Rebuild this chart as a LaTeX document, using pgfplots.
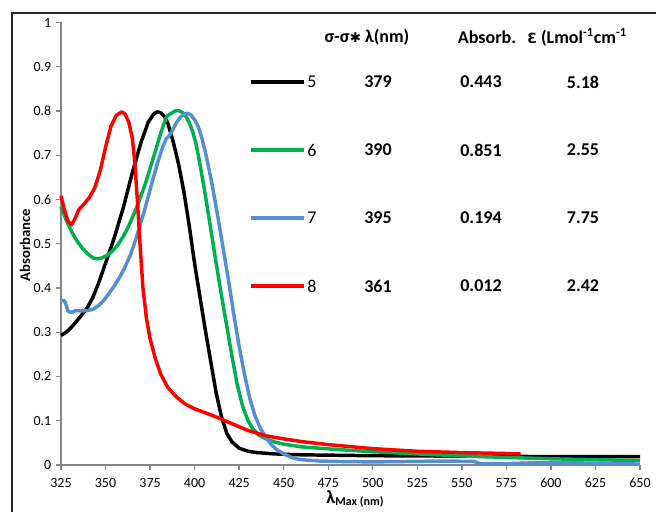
\documentclass[border=0pt]{standalone}
\usepackage{fontspec}
\setmainfont{Carlito}
\newfontfamily\dejavu{DejaVu Sans}
\usepackage{pgfplots}
\pgfplotsset{compat=1.18}
\definecolor{exgreen}{RGB}{0,176,80}
\definecolor{exblue}{RGB}{85,142,213}
\definecolor{exred}{RGB}{255,0,0}
\definecolor{axgray}{RGB}{134,134,134}
\begin{document}
\begin{tikzpicture}
\useasboundingbox (0,0) rectangle (492pt,383.25pt);
\draw[line width=0.9pt, black!85] (9pt,-1pt) -- (9pt,373.5pt) -- (493pt,373.5pt);
\begin{axis}[
  at={(45.75pt,34.5pt)}, anchor=south west,
  scale only axis, width=434.25pt, height=331.875pt,
  xmin=325, xmax=650, ymin=0, ymax=1,
  axis x line*=bottom, axis y line*=left,
  axis line style={axgray, line width=1pt},
  xtick={325,350,375,400,425,450,475,500,525,550,575,600,625,650},
  ytick={0,0.1,0.2,0.3,0.4,0.5,0.6,0.7,0.8,0.9,1},
  tick align=outside, major tick length=3.75pt,
  tick style={axgray, line width=1pt},
  ticklabel style={font=\fontsize{10.5}{12}\selectfont},
  /pgf/number format/assume math mode=true,
  yticklabel style={/pgf/number format/fixed},
  xticklabel style={/pgf/number format/1000 sep={}, yshift=-2.5pt},
  clip=false,
  every axis plot/.append style={line width=2.6pt, line join=round},
]
% series 5
\addplot[black] coordinates {
(325,0.293)(328,0.300)(331,0.312)(334,0.326)(337,0.341)(340,0.357)(343,0.380)(346,0.410)
(350,0.456)(355,0.515)(360,0.582)(365,0.660)(370,0.730)(374,0.775)(377,0.793)(379,0.798)
(381,0.796)(383,0.788)(385,0.772)(388,0.730)(391,0.680)(394,0.617)(397,0.540)(400,0.455)
(403,0.380)(406,0.305)(409,0.235)(412,0.165)(415,0.110)(418,0.072)(421,0.052)(425,0.038)
(430,0.031)(435,0.028)(445,0.025)(460,0.023)(500,0.021)(550,0.020)(600,0.019)(650,0.019)};
% series 6
\addplot[exgreen] coordinates {
(325,0.584)(328,0.553)(331,0.527)(334,0.506)(337,0.490)(340,0.477)(343,0.468)(345,0.466)
(348,0.468)(351,0.474)(354,0.484)(357,0.498)(360,0.517)(363,0.540)(366,0.568)(369,0.598)
(372,0.632)(375,0.670)(378,0.710)(381,0.750)(384,0.785)(385,0.790)(387,0.795)(389,0.800)
(391,0.801)(393,0.797)(395,0.789)(397,0.774)(399,0.752)(401,0.722)(403,0.680)(406,0.610)
(409,0.535)(412,0.458)(415,0.385)(418,0.315)(421,0.245)(424,0.180)(427,0.132)(430,0.100)
(433,0.080)(436,0.068)(440,0.059)(445,0.052)(450,0.047)(460,0.041)(480,0.035)(500,0.030)
(530,0.024)(560,0.019)(600,0.014)(650,0.010)};
% series 7
\addplot[exblue] coordinates {
(325,0.372)(327,0.371)(328,0.360)(329,0.347)(331,0.345)(333,0.349)(336,0.348)(340,0.349)
(343,0.352)(346,0.360)(349,0.372)(352,0.388)(355,0.405)(358,0.425)(361,0.448)(364,0.475)
(367,0.510)(370,0.550)(373,0.592)(376,0.637)(379,0.680)(382,0.718)(384,0.737)(386,0.745)
(388,0.760)(390,0.775)(392,0.786)(394,0.793)(396,0.795)(398,0.791)(400,0.780)(402,0.765)
(404,0.740)(406,0.708)(408,0.670)(410,0.630)(413,0.562)(416,0.490)(419,0.418)(422,0.340)
(425,0.268)(428,0.205)(431,0.150)(434,0.110)(437,0.082)(440,0.062)(443,0.046)(446,0.035)
(450,0.025)(455,0.016)(460,0.012)(470,0.009)(480,0.008)(500,0.007)(520,0.008)(540,0.009)
(557,0.008)(560,0.003)(575,0.003)(590,0.005)(610,0.005)(630,0.004)(650,0.002)};
% series 8
\addplot[exred] coordinates {
(325,0.608)(327,0.575)(329,0.550)(331,0.543)(333,0.558)(335,0.577)(338,0.590)(341,0.605)
(344,0.627)(347,0.665)(350,0.718)(353,0.765)(356,0.790)(359,0.798)(361,0.793)(363,0.775)
(365,0.740)(366.5,0.680)(368,0.590)(369.5,0.490)(371,0.400)(373,0.330)(375,0.285)(378,0.240)
(381,0.205)(385,0.175)(390,0.153)(395,0.137)(400,0.127)(410,0.112)(420,0.095)(430,0.078)
(440,0.066)(450,0.059)(460,0.053)(475,0.046)(500,0.037)(525,0.031)(550,0.028)(575,0.026)
(583,0.025)};
% legend samples
\addplot[black, forget plot] coordinates {(431.7,0.8655)(461.5,0.8655)};
\addplot[exgreen, forget plot] coordinates {(431.7,0.712)(461.5,0.712)};
\addplot[exblue, forget plot] coordinates {(431.7,0.558)(461.5,0.558)};
\addplot[exred, forget plot] coordinates {(431.7,0.4045)(461.5,0.4045)};
\end{axis}
\begin{scope}[x=0.75pt,y=-0.75pt,yshift=383.25pt]
\node[rotate=90, font=\bfseries\fontsize{11}{13}\selectfont] at (25,245) {Absorbance};
\node at (355,499) {{\bfseries\fontsize{14}{16}\selectfont λ}{\bfseries\fontsize{9}{10}\selectfont\raisebox{-0.45ex}{Max (nm)}}};
\begin{scope}[every node/.style={font=\bfseries\fontsize{13.5}{16}\selectfont, inner sep=0pt}]
\node at (367,37) {σ-σ{\dejavu\bfseries\fontsize{10}{12}\selectfont ✱}\ λ(nm)};
\node at (487,37) {Absorb.};
\node[anchor=west] at (527,37) {{\dejavu\bfseries\fontsize{10.5}{12}\selectfont Ɛ}\ (Lmol\textsuperscript{-1}cm\textsuperscript{-1}};
\foreach \yy/\c/\a/\b/\e in {82/5/379/0.443/5.18, 150/6/390/0.851/2.55, 218/7/395/0.194/7.75, 286/8/361/0.012/2.42}{
  \node[anchor=west, font=\fontsize{13.5}{16}\selectfont] at (307,\yy) {\c};
  \node at (378,\yy) {\a};
  \node at (481,\yy) {\b};
  \node at (583,\yy) {\e};
}
\end{scope}
\end{scope}
\end{tikzpicture}
\end{document}
